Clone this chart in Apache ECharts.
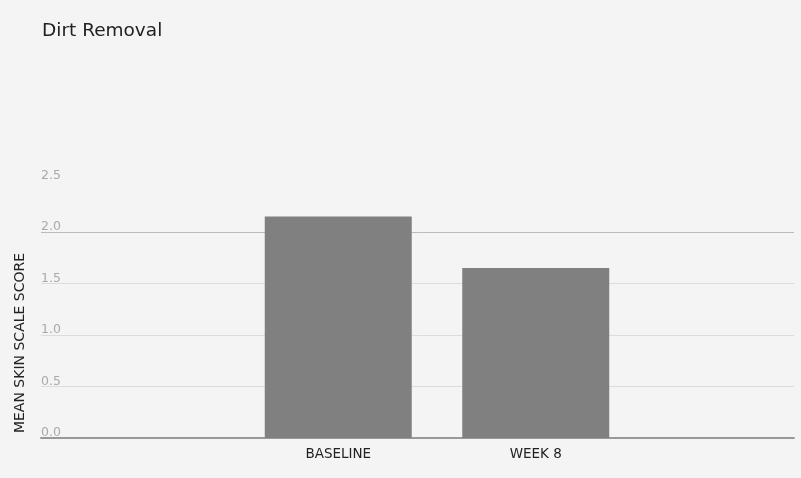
<!DOCTYPE html>
<html>
<head>
<meta charset="utf-8">
<script src="https://cdn.jsdelivr.net/npm/echarts@6/dist/echarts.min.js"></script>
<style>
  html, body { margin: 0; padding: 0; background: #f4f4f4; }
  #chart { width: 801px; height: 478px; }
</style>
</head>
<body>
<div id="chart"></div>
<script>
// data
var categories = ['BASELINE', 'WEEK 8'];
var scores = [2.15, 1.65];
var yTicks = [0, 0.5, 1.0, 1.5, 2.0, 2.5];
var yTitle = 'MEAN SKIN SCALE SCORE';

var font = '"DejaVu Sans", "Liberation Sans", sans-serif';
var myChart = echarts.init(document.getElementById('chart'));
myChart.setOption({
    backgroundColor: '#f4f4f4',
    textStyle: { fontFamily: font },
    title: {
        text: 'Dirt Removal',
        left: 37,
        top: 17,
        textStyle: { color: '#222', fontSize: 18.5, fontWeight: 'normal', fontFamily: font }
    },
    // y title is centred lower than the plot, so it is placed by hand
    graphic: [{
        type: 'text',
        x: 20,
        y: 343,
        rotation: Math.PI / 2,
        style: {
            text: yTitle,
            fill: '#222',
            fontSize: 14,
            fontFamily: font,
            textAlign: 'center',
            textVerticalAlign: 'middle'
        }
    }],
    grid: [
        // full-width grid: value axis, gridlines, baseline
        { left: 41, right: 7, top: 180.5, bottom: 40 },
        // bars sit in a narrower grid with the same vertical scale
        { left: 239.5, width: 395, top: 180.5, bottom: 40 }
    ],
    xAxis: [
        {
            gridIndex: 0,
            type: 'category',
            data: [''],
            axisLine: { show: true, lineStyle: { color: '#999', width: 2 } },
            axisTick: { show: false },
            axisLabel: { show: false }
        },
        {
            gridIndex: 1,
            type: 'category',
            data: categories,
            axisLine: { show: false },
            axisTick: { show: false },
            axisLabel: { color: '#222', fontSize: 13.5, margin: 9, fontFamily: font }
        }
    ],
    yAxis: [
        {
            gridIndex: 0,
            type: 'value',
            min: yTicks[0],
            max: yTicks[yTicks.length - 1],
            interval: 0.5,
            axisLine: { show: false },
            axisTick: { show: false },
            axisLabel: {
                inside: true,
                margin: 0,
                verticalAlign: 'bottom',
                lineHeight: 6,
                padding: [0, 0, 2, 0],
                color: '#aaa',
                fontSize: 12.5,
                fontFamily: font,
                formatter: function (v) { return v.toFixed(1); }
            },
            splitLine: {
                show: true,
                lineStyle: { color: ['#999', '#dcdcdc', '#dcdcdc', '#dcdcdc', '#bbb', 'rgba(0,0,0,0)'] }
            }
        },
        {
            gridIndex: 1,
            type: 'value',
            min: yTicks[0],
            max: yTicks[yTicks.length - 1],
            interval: 0.5,
            show: false,
            splitLine: { show: false }
        }
    ],
    series: [{
        type: 'bar',
        xAxisIndex: 1,
        yAxisIndex: 1,
        data: scores,
        barWidth: 147,
        itemStyle: { color: '#808080' },
        silent: true
    }]
});
</script>
</body>
</html>
